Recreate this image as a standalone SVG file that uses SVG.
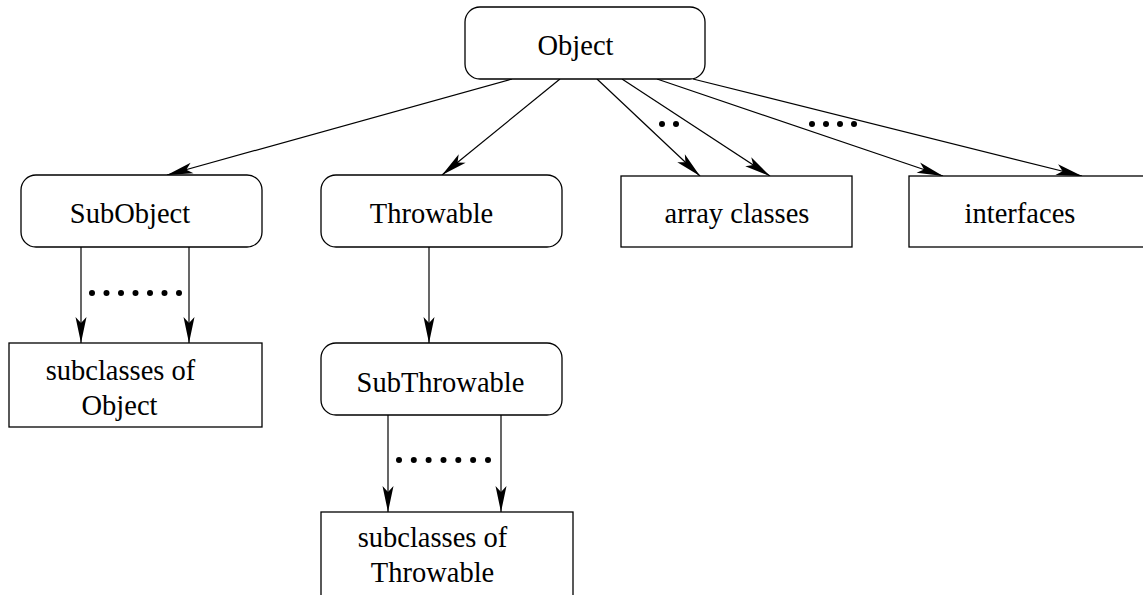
<svg xmlns="http://www.w3.org/2000/svg" width="1143" height="595" viewBox="0 0 1143 595">
  <style>
    .box { fill: #fff; stroke: #000; stroke-width: 1.3; }
    .lbl { font-family: "Liberation Serif", "Times New Roman", serif; font-size: 28.5px; fill: #000; text-anchor: middle; }
    .edge { fill: none; stroke: #000; stroke-width: 1.2; marker-end: url(#arrow); }
    .dot { fill: #000; }
  </style>
  <defs>
    <marker id="arrow" markerUnits="userSpaceOnUse" markerWidth="30" markerHeight="14" viewBox="-27 -7 28 14" refX="0" refY="0" orient="auto" overflow="visible">
      <path d="M0,0 L-26,-5.5 L-20,0 L-26,5.5 Z" fill="#000"/>
    </marker>
  </defs>

  <rect width="1143" height="595" fill="#fff"/>

  <!-- connectors -->
  <g id="connectors">
    <line class="edge" x1="512" y1="79" x2="167" y2="175"/>
    <line class="edge" x1="560" y1="79" x2="442" y2="175"/>
    <line class="edge" x1="597" y1="79" x2="700" y2="176"/>
    <line class="edge" x1="622" y1="79" x2="770" y2="176"/>
    <line class="edge" x1="657" y1="79" x2="943" y2="176"/>
    <line class="edge" x1="693" y1="79" x2="1082" y2="176"/>
    <line class="edge" x1="81" y1="247" x2="81" y2="343"/>
    <line class="edge" x1="189" y1="247" x2="189" y2="343"/>
    <line class="edge" x1="429" y1="247" x2="429" y2="343"/>
    <line class="edge" x1="388" y1="415" x2="388" y2="512"/>
    <line class="edge" x1="501" y1="415" x2="501" y2="512"/>
    <!-- ellipsis dots between sibling arrows -->
    <g class="dot">
      <circle cx="662" cy="124" r="3"/>
      <circle cx="676" cy="124" r="3"/>
      <circle cx="812" cy="124" r="3"/>
      <circle cx="826" cy="124" r="3"/>
      <circle cx="840" cy="124" r="3"/>
      <circle cx="854" cy="124" r="3"/>
      <circle cx="92" cy="293" r="3"/>
      <circle cx="106.5" cy="293" r="3"/>
      <circle cx="121" cy="293" r="3"/>
      <circle cx="135.5" cy="293" r="3"/>
      <circle cx="150" cy="293" r="3"/>
      <circle cx="164.5" cy="293" r="3"/>
      <circle cx="179" cy="293" r="3"/>
      <circle cx="399" cy="460" r="3"/>
      <circle cx="413.8" cy="460" r="3"/>
      <circle cx="428.6" cy="460" r="3"/>
      <circle cx="443.5" cy="460" r="3"/>
      <circle cx="458.3" cy="460" r="3"/>
      <circle cx="473.1" cy="460" r="3"/>
      <circle cx="488" cy="460" r="3"/>
    </g>
  </g>

  <!-- nodes -->
  <g id="object">
    <rect class="box" x="465" y="7" width="240" height="72" rx="15"/>
    <text class="lbl" x="575.5" y="55">Object</text>
  </g>
  <g id="subobject">
    <rect class="box" x="21" y="175" width="241" height="72" rx="15"/>
    <text class="lbl" x="130" y="223">SubObject</text>
  </g>
  <g id="throwable">
    <rect class="box" x="321" y="175" width="241" height="72" rx="15"/>
    <text class="lbl" x="431.5" y="223">Throwable</text>
  </g>
  <g id="array-classes">
    <rect class="box" x="621" y="176" width="231" height="71"/>
    <text class="lbl" x="737" y="223">array classes</text>
  </g>
  <g id="interfaces">
    <rect class="box" x="909" y="176" width="245" height="71"/>
    <text class="lbl" x="1020" y="223">interfaces</text>
  </g>
  <g id="subclasses-of-object">
    <rect class="box" x="9" y="343" width="253" height="84"/>
    <text class="lbl" x="120.5" y="380">subclasses of</text>
    <text class="lbl" x="119.5" y="415">Object</text>
  </g>
  <g id="subthrowable">
    <rect class="box" x="321" y="343" width="241" height="72" rx="15"/>
    <text class="lbl" x="440.5" y="392">SubThrowable</text>
  </g>
  <g id="subclasses-of-throwable">
    <rect class="box" x="321" y="512" width="252" height="95"/>
    <text class="lbl" x="432.5" y="547">subclasses of</text>
    <text class="lbl" x="432.5" y="582">Throwable</text>
  </g>
</svg>
